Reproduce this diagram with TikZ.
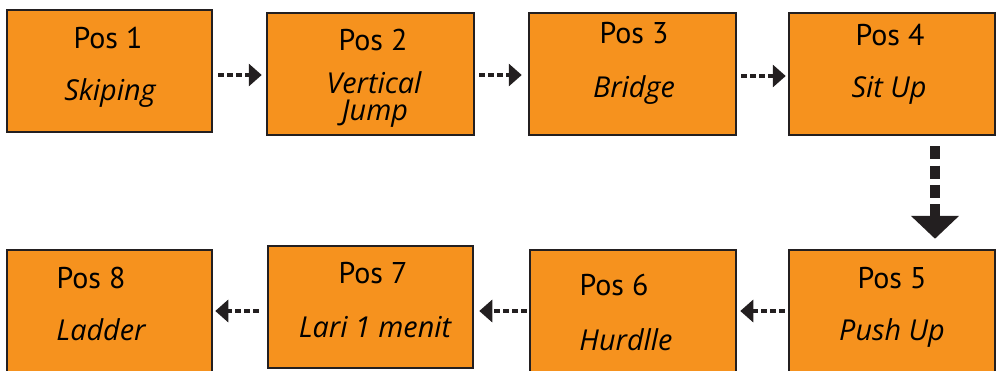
\documentclass[tikz,border=0pt]{standalone}
\usepackage{fontspec}
\setmainfont{PT Sans}
\newfontfamily\itfont{Open Sans}
\usetikzlibrary{arrows.meta}
\definecolor{boxfill}{HTML}{F6921E}
\definecolor{boxline}{HTML}{231F20}
\tikzset{
  posbox/.style={draw=boxline, line width=2.5pt, fill=boxfill, rectangle, inner sep=0pt},
  lbl/.style={anchor=base, inner sep=0pt, font=\fontsize{30}{32}\selectfont, text=black},
  ilbl/.style={lbl, font=\itfont\fontsize{28.8}{30}\selectfont\itshape},
  smallarr/.style={draw=boxline, line width=4pt, dash pattern=on 6pt off 3pt,
    -{Triangle[length=13pt,width=22pt]}},
  bigarr/.style={draw=boxline, line width=10pt, dash pattern=on 13pt off 6.3pt,
    -{Triangle[length=23pt,width=47pt]}}
}
\begin{document}
\begin{tikzpicture}[x=1pt,y=-1pt]
\useasboundingbox (0,0) rectangle (996,370);
% top row
\node[posbox, minimum width=205pt, minimum height=122pt] (b1) at (109.5,71) {};
\node[posbox, minimum width=207pt, minimum height=122pt] (b2) at (370.5,74) {};
\node[posbox, minimum width=207pt, minimum height=122pt] (b3) at (632.5,74) {};
\node[posbox, minimum width=206pt, minimum height=122pt] (b4) at (892,74) {};
% bottom row
\node[posbox, minimum width=206pt, minimum height=122pt] (b5) at (892,311) {};
\node[posbox, minimum width=206pt, minimum height=122pt] (b6) at (633,311) {};
\node[posbox, minimum width=205pt, minimum height=122pt] (b7) at (370.5,307) {};
\node[posbox, minimum width=205pt, minimum height=122pt] (b8) at (109.5,311) {};
% labels
\node[lbl]  (t1a) at (108,48) {Pos 1};
\node[ilbl] (t1b) at (110,100) {Skiping};
\node[lbl]  (t2a) at (373,50) {Pos 2};
\node[ilbl] (t2b) at (374,93) {Vertical};
\node[ilbl] (t2c) at (375,120) {Jump};
\node[lbl]  (t3a) at (634,43) {Pos 3};
\node[ilbl] (t3b) at (634,97) {Bridge};
\node[lbl]  (t4a) at (890,45) {Pos 4};
\node[ilbl] (t4b) at (889,97) {Sit Up};
\node[lbl]  (t5a) at (892,288) {Pos 5};
\node[ilbl] (t5b) at (892,340) {Push Up};
\node[lbl]  (t6a) at (614,295) {Pos 6};
\node[ilbl] (t6b) at (626,350) {Hurdlle};
\node[lbl]  (t7a) at (373,283) {Pos 7};
\node[ilbl] (t7b) at (375,337) {Lari 1 menit};
\node[lbl]  (t8a) at (91,288) {Pos 8};
\node[ilbl] (t8b) at (101,340) {Ladder};
% connectors
\draw[smallarr, shorten <=5pt, shorten >=4pt] ([yshift=-1pt]b2.west -| b1.east) -- ([yshift=-1pt]b2.west);
\draw[smallarr, shorten <=4pt, shorten >=6pt] ([yshift=-1pt]b2.east) -- ([yshift=-1pt]b2.east -| b3.west);
\draw[smallarr, shorten <=4pt, shorten >=2pt] ([yshift=-2pt]b3.east) -- ([yshift=-2pt]b3.east -| b4.west);
\draw[bigarr, shorten <=10pt, shorten >=10pt] ([xshift=43pt]b4.south) -- ([xshift=43pt]b5.north);
\draw[smallarr, shorten <=3pt, shorten >=3pt] (b5.west) -- (b5.west -| b6.east);
\draw[smallarr, shorten <=2pt, shorten >=5pt] (b6.west) -- (b6.west -| b7.east);
\draw[smallarr, shorten <=8pt, shorten >=2pt] (b7.west |- b8.east) -- (b8.east);
\end{tikzpicture}
\end{document}
